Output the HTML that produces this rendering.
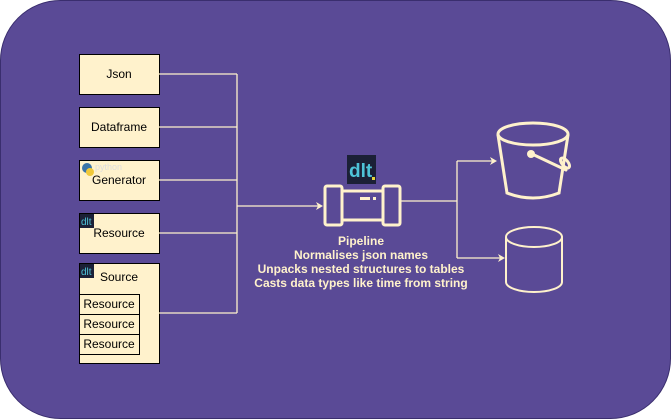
<!DOCTYPE html>
<html><head><style>
body{margin:0;width:671px;height:419px;background:#fff;overflow:hidden}
svg{display:block}
text{font-family:"Liberation Sans",sans-serif}
</style></head><body>
<svg width="671" height="419" viewBox="0 0 671 419">
<rect x="0.5" y="0.5" width="670" height="418" rx="60" fill="#5a4a96" stroke="#3a2e6e"/>
<g fill="#fff2cc" stroke="#000" stroke-width="1">
<rect x="79.5" y="54.5" width="80" height="40"/>
<rect x="79.5" y="107.5" width="80" height="40"/>
<rect x="79.5" y="160.5" width="80" height="40"/>
<rect x="79.5" y="213.5" width="80" height="40"/>
<rect x="79.5" y="263.5" width="80" height="100"/>
<rect x="79.5" y="294.5" width="60" height="20"/>
<rect x="79.5" y="314.5" width="60" height="20"/>
<rect x="79.5" y="334.5" width="60" height="20"/>
</g>
<g font-size="12" fill="#000" text-anchor="middle">
<text x="119" y="78">Json</text>
<text x="119" y="131">Dataframe</text>
<text x="119" y="184">Generator</text>
<text x="119" y="237">Resource</text>
<text x="119" y="281">Source</text>
<text x="109" y="308">Resource</text>
<text x="109" y="328">Resource</text>
<text x="109" y="348">Resource</text>
</g>
<!-- small icons -->
<circle cx="87" cy="168" r="5" fill="#3b75a8"/><circle cx="90" cy="172" r="4" fill="#f0c93a"/>
<text x="95" y="170" font-size="9" fill="#ddd">python</text>
<rect x="80" y="214" width="14" height="14" fill="#1b2036"/><text x="81" y="225" font-size="10" fill="#4ec3d8">dlt</text>
<rect x="80" y="264" width="14" height="14" fill="#1b2036"/><text x="81" y="275" font-size="10" fill="#4ec3d8">dlt</text>
<g stroke="#fff2cc" stroke-width="1.3" fill="none">
<path d="M159 74H237M159 127H237M159 180H237M159 233H237M159 313H237M237 74V313"/>
<path d="M237 206H318"/>
<path d="M401 201H457M457 161V258M457 161H492M457 258H500"/>
</g>
<g fill="#fff2cc">
<path d="M323 206l-7-4 2 4-2 4z"/>
<path d="M497 161l-7-4 2 4-2 4z"/>
<path d="M505 258l-7-4 2 4-2 4z"/>
</g>
<!-- dlt logo -->
<rect x="347" y="155" width="29" height="29" fill="#1b2036"/>
<text x="349" y="177" font-size="19" fill="#4ec3d8" font-weight="bold">dlt</text>
<rect x="372" y="177" width="3" height="3" fill="#e8d63a"/>
<!-- pipe -->
<g stroke="#fff2cc" stroke-width="3" fill="none">
<rect x="325" y="186" width="17" height="39" rx="2"/>
<rect x="383" y="186" width="17" height="39" rx="2"/>
<rect x="342" y="191" width="41" height="29"/>
</g>
<rect x="360" y="197" width="10" height="3" fill="#fff2cc"/><rect x="373" y="197" width="3" height="3" fill="#fff2cc"/>
<g font-size="12" font-weight="bold" fill="#fff2cc" text-anchor="middle">
<text x="361" y="245">Pipeline</text>
<text x="361" y="259">Normalises json names</text>
<text x="361" y="273">Unpacks nested structures to tables</text>
<text x="361" y="287">Casts data types like time from string</text>
</g>
<!-- bucket -->
<g stroke="#fff2cc" stroke-width="3" fill="none" stroke-linecap="round">
<ellipse cx="533" cy="134" rx="35" ry="11"/>
<path d="M498 135L507 193Q533 203 559 193L568 135"/>
<path d="M532 154L566 170"/>
<ellipse cx="565" cy="163" rx="3" ry="6" transform="rotate(-40 565 163)"/>
</g>
<circle cx="531" cy="154" r="4" fill="#fff2cc"/>
<!-- cylinder -->
<g stroke="#fff2cc" stroke-width="2" fill="none">
<ellipse cx="534" cy="237" rx="28" ry="10"/>
<path d="M506 237V282A28 10 0 0 0 562 282V237"/>
</g>
</svg>
</body></html>
